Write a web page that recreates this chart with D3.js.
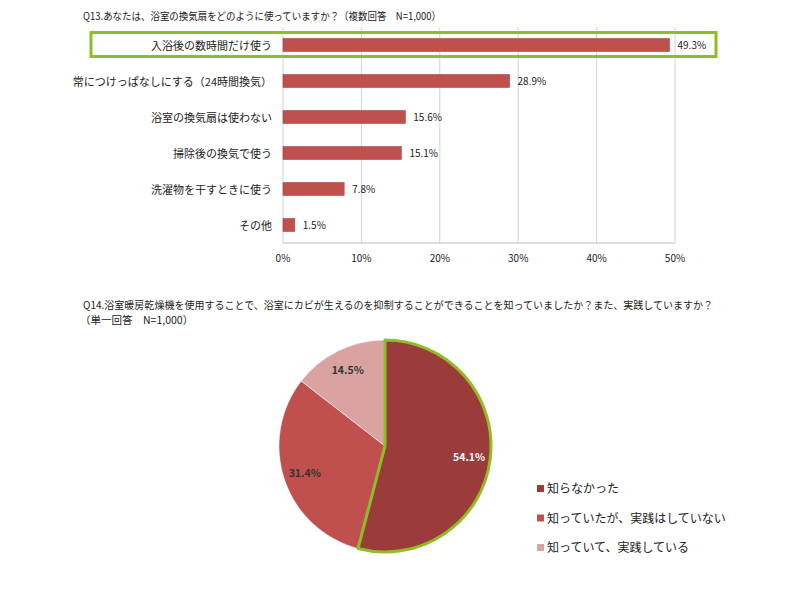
<!DOCTYPE html>
<html>
<head>
<meta charset="utf-8">
<script src="https://cdn.jsdelivr.net/npm/d3@7"></script>
<style>
  body { margin: 0; background: #fff; }
  svg { font-family: "Noto Sans CJK JP", sans-serif; }
</style>
</head>
<body>
<svg id="chart" width="800" height="600"></svg>
<script>
// Q13 bar data
const barLabels = ['入浴後の数時間だけ使う', '常につけっぱなしにする（24時間換気）', '浴室の換気扇は使わない', '掃除後の換気で使う', '洗濯物を干すときに使う', 'その他'];
const barValues = [49.3, 28.9, 15.6, 15.1, 7.8, 1.5];
const barTicks = [0, 10, 20, 30, 40, 50];

// Q14 pie data
const pieLabels = ['知らなかった', '知っていたが、実践はしていない', '知っていて、実践している'];
const pieValues = [54.1, 31.4, 14.5];
const pieColors = ['#9b3b3a', '#c0504d', '#d9a3a2'];

const svg = d3.select('#chart');
const green = '#8cbf26';

// ---- Bar chart ----
const x = d3.scaleLinear().domain([0, 50]).range([283, 675]);
const y = d3.scaleBand().domain(barLabels).range([27, 243]).paddingInner(0.64).paddingOuter(0.32);

svg.append('text')
    .attr('x', 83).attr('y', 20)
    .attr('font-size', 10.5)
    .attr('fill', '#222')
    .attr('textLength', 358)
    .attr('lengthAdjust', 'spacingAndGlyphs')
    .text('Q13.あなたは、浴室の換気扇をどのように使っていますか？（複数回答　N=1,000）');

// gridlines
svg.append('g')
    .selectAll('line')
    .data(barTicks)
    .enter().append('line')
    .attr('x1', d => x(d)).attr('x2', d => x(d))
    .attr('y1', 27).attr('y2', 243)
    .attr('stroke', '#d4d4d4');

svg.append('line')
    .attr('x1', 283).attr('x2', 675)
    .attr('y1', 243).attr('y2', 243)
    .attr('stroke', '#bdbdbd');

// tick labels
svg.append('g')
    .selectAll('text')
    .data(barTicks)
    .enter().append('text')
    .attr('x', d => x(d)).attr('y', 262)
    .attr('text-anchor', 'middle')
    .attr('font-size', 10)
    .attr('fill', '#222')
    .text(d => d + '%');

// highlight box around the first row
svg.append('rect')
    .attr('x', 91).attr('y', y(barLabels[0]) - 6)
    .attr('width', 625).attr('height', 24)
    .attr('fill', 'none')
    .attr('stroke', green)
    .attr('stroke-width', 3);

svg.append('g')
    .selectAll('rect')
    .data(barValues)
    .enter().append('rect')
    .attr('x', x(0))
    .attr('y', (d, i) => y(barLabels[i]))
    .attr('width', d => x(d) - x(0))
    .attr('height', y.bandwidth())
    .attr('fill', '#c0504d')
    .attr('stroke', '#a94442')
    .attr('stroke-width', 0.6);

svg.append('g')
    .selectAll('text')
    .data(barValues)
    .enter().append('text')
    .attr('x', d => x(d) + 8)
    .attr('y', (d, i) => y(barLabels[i]) + y.bandwidth() / 2 + 4)
    .attr('font-size', 10)
    .attr('fill', '#222')
    .text(d => d.toFixed(1) + '%');

svg.append('g')
    .selectAll('text')
    .data(barLabels)
    .enter().append('text')
    .attr('x', 272)
    .attr('y', d => y(d) + y.bandwidth() / 2 + 4.5)
    .attr('text-anchor', 'end')
    .attr('font-size', 11)
    .attr('fill', '#222')
    .text(d => d);

// ---- Pie chart ----
svg.append('text')
    .attr('x', 83).attr('y', 309)
    .attr('font-size', 10.5)
    .attr('fill', '#222')
    .attr('textLength', 630)
    .attr('lengthAdjust', 'spacingAndGlyphs')
    .text('Q14.浴室暖房乾燥機を使用することで、浴室にカビが生えるのを抑制することができることを知っていましたか？また、実践していますか？');
svg.append('text')
    .attr('x', 80).attr('y', 324)
    .attr('font-size', 10.5)
    .attr('fill', '#222')
    .text('（単一回答　N=1,000）');

const cx = 385, cy = 446, r = 106;
const pie = d3.pie().sort(null).value(d => d);
const arcs = pie(pieValues);
const arc = d3.arc().innerRadius(0).outerRadius(r);
const labelArc = d3.arc().innerRadius(r * 0.8).outerRadius(r * 0.8);

const pg = svg.append('g').attr('transform', `translate(${cx},${cy})`);

pg.selectAll('path')
    .data(arcs)
    .enter().append('path')
    .attr('d', arc)
    .attr('fill', (d, i) => pieColors[i])
    .attr('stroke', '#fff')
    .attr('stroke-width', 0.5);

// green outline on the largest slice
pg.append('path')
    .attr('d', arc(arcs[0]))
    .attr('fill', 'none')
    .attr('stroke', green)
    .attr('stroke-width', 3)
    .attr('stroke-linejoin', 'round');

pg.selectAll('text.val')
    .data(arcs)
    .enter().append('text')
    .attr('class', 'val')
    .attr('transform', d => `translate(${labelArc.centroid(d)})`)
    .attr('text-anchor', 'middle')
    .attr('dy', '0.35em')
    .attr('font-size', 10.5)
    .attr('font-weight', 'bold')
    .attr('fill', (d, i) => i === 0 ? '#fff' : '#333')
    .text(d => d.data.toFixed(1) + '%');

// legend
const lg = svg.append('g').attr('transform', 'translate(537,490)');
const items = lg.selectAll('g')
    .data(pieLabels)
    .enter().append('g')
    .attr('transform', (d, i) => `translate(0,${i * 29.5})`);
items.append('rect')
    .attr('x', 0).attr('y', -5)
    .attr('width', 7).attr('height', 7)
    .attr('fill', (d, i) => pieColors[i]);
items.append('text')
    .attr('x', 10).attr('y', 3)
    .attr('font-size', 12)
    .attr('fill', '#222')
    .text(d => d);
</script>
</body>
</html>
